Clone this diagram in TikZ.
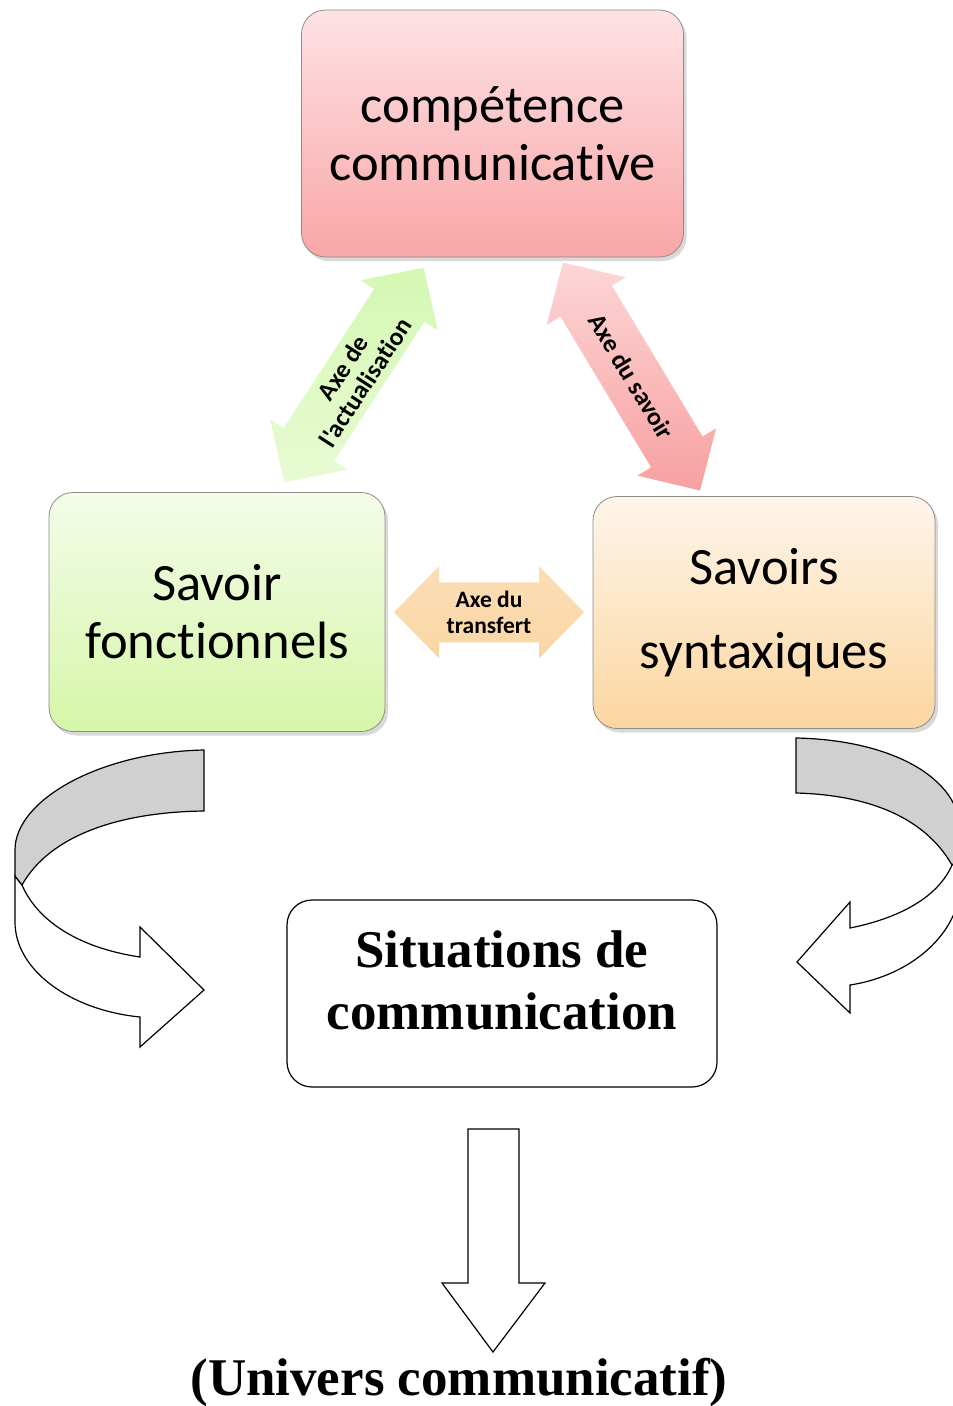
\documentclass[tikz,border=0pt]{standalone}
\usepackage{fontspec}
\setmainfont{Carlito}[Ligatures={NoCommon,TeXOff}]
\newfontfamily\seriffam{Liberation Serif}
\usetikzlibrary{calc,shadows}
\definecolor{compTop}{RGB}{253,226,229}
\definecolor{compBot}{RGB}{249,166,166}
\definecolor{fonctTop}{RGB}{243,252,233}
\definecolor{fonctBot}{RGB}{214,246,168}
\definecolor{syntTop}{RGB}{254,245,233}
\definecolor{syntBot}{RGB}{251,214,160}
\definecolor{backgray}{RGB}{208,208,208}
\newcommand{\boxfont}{\fontsize{52.5}{58}\selectfont}
\newcommand{\axefont}{\bfseries\fontsize{25.5}{27}\selectfont}
\newcommand{\situfont}{\seriffam\bfseries\fontsize{53}{62}\selectfont}
\tikzset{
    box/.style={draw=black!45, line width=0.8pt, rounded corners=24pt,
                align=center, inner sep=0pt, font=\boxfont,
                drop shadow={opacity=0.3, shadow xshift=3pt, shadow yshift=-4pt}},
    situbox/.style={draw, fill=white, line width=1.2pt, rounded corners=25pt,
                align=center, inner sep=0pt, font=\situfont},
    axelabel/.style={align=center, inner sep=0pt, font=\axefont},
    ribbon/.style={draw, line width=1.2pt},
}
\newcommand{\axearrow}[4]{
    \begin{scope}[shift={#1}, rotate=#2]
        \shade[#4] (-#3,0) -- (-#3+45,-46) -- (-#3+45,-30) -- (#3-45,-30)
            -- (#3-45,-46) -- (#3,0) -- (#3-45,46) -- (#3-45,30)
            -- (-#3+45,30) -- (-#3+45,46) -- cycle;
    \end{scope}
}

\begin{document}
\begin{tikzpicture}[x=1pt, y=-1pt]
    \useasboundingbox (0,0) rectangle (953,1406);

    % the three poles
    \node[box, top color=compTop, bottom color=compBot,
          minimum width=382pt, minimum height=247pt] (comp) at (492.5,133.5)
          {compétence\\communicative};
    \node[box, top color=fonctTop, bottom color=fonctBot,
          minimum width=336pt, minimum height=239pt] (fonct) at (217,612)
          {Savoir\\fonctionnels};
    \node[box, top color=syntTop, bottom color=syntBot,
          minimum width=342pt, minimum height=232pt] (synt) at (764,612.5)
          {Savoirs\\[26pt]syntaxiques};

    % axes
    \axearrow{(354,375)}{57}{128}{top color={rgb,255:red,212;green,248;blue,178},
        bottom color={rgb,255:red,232;green,251;blue,212}}
    \axearrow{(631.5,376.5)}{-59}{133}{top color={rgb,255:red,252;green,214;blue,214},
        bottom color={rgb,255:red,248;green,160;blue,160}}
    \coordinate (mid) at ($(fonct.east)!0.5!(synt.west)$);
    \axearrow{(mid)}{0}{95}{top color={rgb,255:red,251;green,222;blue,182},
        middle color={rgb,255:red,253;green,238;blue,216},
        bottom color={rgb,255:red,250;green,214;blue,164}}
    \node[axelabel, rotate=57] (actual) at (354,375) {Axe de\\l'actualisation};
    \node[axelabel, rotate=-59] (savoir) at (631.5,376.5) {Axe du savoir};
    \node[axelabel, font=\bfseries\fontsize{23.5}{26}\selectfont] (transfert) at (mid)
        {Axe du\\transfert};

    % situations
    \node[situbox, minimum width=430pt, minimum height=187pt, text depth=26pt]
        (situ) at (502,993.5) {Situations de\\communication};

    % left curved arrow
    \filldraw[ribbon, fill=white] (22,885) -- (15,876) -- (15,922)
        .. controls (15,970) and (70,1010) .. (140,1017) -- (140,1047)
        -- (204,990) -- (140,927) -- (140,957)
        .. controls (80,948) and (38,922) .. (22,885) -- cycle;
    \filldraw[ribbon, fill=backgray] (204,750)
        .. controls (100,752) and (15,800) .. (15,850) -- (15,876) -- (22,885)
        .. controls (50,835) and (120,812) .. (204,811) -- cycle;

    % right curved arrow
    \begin{scope}
        \clip (0,0) rectangle (953,1406);
        \filldraw[ribbon, fill=white] (952,865) -- (960,858) -- (960,885)
            .. controls (960,930) and (915,975) .. (850,985) -- (850,1013)
            -- (797,962) -- (850,902) -- (850,928)
            .. controls (900,918) and (938,897) .. (952,865) -- cycle;
        \filldraw[ribbon, fill=backgray] (796,738)
            .. controls (895,740) and (960,780) .. (960,830) -- (960,858) -- (952,865)
            .. controls (925,818) and (870,795) .. (796,793) -- cycle;
    \end{scope}

    % down arrow
    \filldraw[ribbon, fill=white] (468,1129) -- (519,1129) -- (519,1283)
        -- (545,1283) -- (493,1352) -- (442,1283) -- (468,1283) -- cycle;
    \node[font=\situfont, anchor=base, inner sep=0pt] (univ) at (459,1395)
        {(Univers communicatif)};
\end{tikzpicture}
\end{document}
